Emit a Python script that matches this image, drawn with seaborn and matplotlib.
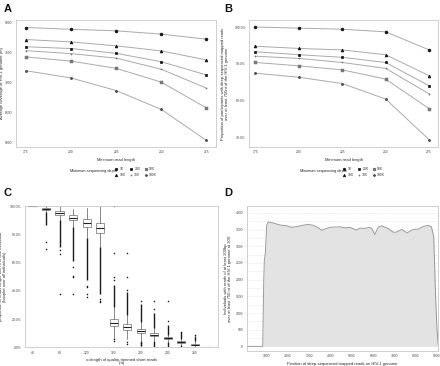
import numpy as np
import pandas as pd
import matplotlib
matplotlib.use("Agg")
import matplotlib.pyplot as plt
from matplotlib.lines import Line2D
from matplotlib.ticker import FuncFormatter
import seaborn as sns

# Panels A and B: coverage vs minimum read length
read_length = [175, 200, 225, 250, 275]
depths = ["1X", "10X", "20X", "30X", "50X", "100X"]
coverage_nt = {
    "1X": [7910, 7880, 7855, 7800, 7715],
    "10X": [7710, 7670, 7605, 7520, 7370],
    "20X": [7590, 7560, 7480, 7340, 7120],
    "30X": [7525, 7475, 7400, 7215, 6900],
    "50X": [7420, 7350, 7230, 7000, 6570],
    "100X": [7190, 7070, 6860, 6545, 6030],
}
prop_participants = {
    "1X": [100.0, 99.7, 99.4, 98.7, 93.8],
    "10X": [94.8, 94.2, 93.8, 92.5, 86.8],
    "20X": [93.3, 92.5, 91.8, 90.4, 84.1],
    "30X": [92.1, 91.5, 90.4, 88.8, 81.9],
    "50X": [90.4, 89.5, 88.4, 85.9, 77.9],
    "100X": [87.5, 86.4, 84.7, 80.5, 69.5],
}
depth_markers = {"1X": "o", "10X": "^", "20X": "s", "30X": "+",
                 "50X": r"$\boxtimes$", "100X": (6, 2, 0)}
depth_colors = {"1X": "#111111", "10X": "#111111", "20X": "#111111",
                "30X": "#777777", "50X": "#777777", "100X": "#555555"}

# Panel C: box statistics (percent) per read length threshold
box_pos = [40, 60, 80, 100, 120, 140, 160, 180, 200, 220, 240, 260, 280, 300]
box_med = [100, 98.3, 95.3, 92.0, 88.2, 84.8, 17.3, 14.3, 11.4, 8.9, 6.5, 3.8, 1.9, 0]
box_q1 = [100, 97.7, 94.0, 90.3, 85.5, 81.3, 14.8, 12.2, 9.8, 7.8, 5.9, 3.2, 1.4, 0]
box_q3 = [100, 98.9, 96.4, 93.5, 90.8, 88.3, 20.2, 16.6, 13.1, 10.1, 7.1, 4.4, 2.5, 0]
box_wlo = [100, 95.9, 90.4, 85.5, 77.5, 70.8, 6.7, 5.6, 4.8, 4.3, 4.1, 1.4, 0, 0]
box_whi = [100, 100, 100, 98.3, 98.7, 99.9, 28.3, 23.2, 18.0, 13.6, 8.9, 6.2, 4.2, 0]
dense_lo = [None, 86.5, 71, 61.5, 48, 38, 28.3, 23.2, 18.0, 13.6, 8.9, 6.2, 4.2, None]
dense_hi = [None, 95.9, 90.4, 85.5, 77.5, 70.8, 44, 39, 31, 24, 15.5, 10.7, 8.3, None]
dense_lo2 = [None, None, None, None, None, None, None, None, 1.0, 0, 0, 0, 0, None]
dense_hi2 = [None, None, None, None, None, None, None, None, 4.8, 4.3, 4.1, 1.4, 0.3, None]
sparse_fliers = [[], [74.6, 69.6], [69, 66, 38], [57, 50.5, 49.8, 38],
                 [43.8, 43, 38, 36], [34.4, 33, 32], [100, 66.8, 50, 47.5, 6, 4.7],
                 [66.8, 50, 40.3, 3.5, 2], [33, 3, 1.5], [33, 27], [33, 19],
                 [11], [8.5], []]

# Panel D: number of individuals along the genome
genome_pos = [60, 812, 860, 888, 935, 1000, 1075, 1150, 1310, 1620, 1940, 2170,
              2400, 2720, 2950, 3190, 3420, 3580, 3810, 3969, 4120, 4438, 4670,
              4907, 5221, 5380, 5610, 5770, 5923, 6079, 6240, 6393, 6703, 6940,
              7097, 7332, 7597, 7878, 8110, 8340, 8580, 8736, 8846, 8940, 9000, 9050]
n_individuals = [0, 0, 1975, 2580, 2780, 3637, 3737, 3717, 3700, 3640, 3615, 3570,
                 3590, 3635, 3655, 3630, 3555, 3485, 3535, 3568, 3575, 3586, 3555,
                 3568, 3486, 3545, 3537, 3565, 3547, 3356, 3580, 3616, 3537, 3425,
                 3425, 3507, 3405, 3507, 3515, 3590, 3628, 3586, 3284, 1370, 500, 60]

sns.set_theme(style="white")
plt.rcParams['font.family'] = ['Liberation Sans', 'DejaVu Sans']

W, H = 440, 366
fig = plt.figure(figsize=(W / 100, H / 100), dpi=100)


def px_axes(l, t, r, b):
    return fig.add_axes([l / W, 1 - b / H, (r - l) / W, (b - t) / H])


def style_ax(ax):
    for s in ax.spines.values():
        s.set_color("#c8c8c8")
        s.set_linewidth(0.6)
    ax.tick_params(length=1.5, width=0.4, color="#888888", labelsize=2.4,
                   labelcolor="#444444", pad=1)
    ax.grid(False)


def line_panel(ax, values):
    for d in depths:
        sns.lineplot(x=read_length, y=values[d], ax=ax, color="#aaaaaa",
                     linewidth=0.7, marker=depth_markers[d], markersize=2.0,
                     markerfacecolor=depth_colors[d],
                     markeredgecolor=depth_colors[d], markeredgewidth=0.5)
    ax.set_xticks(read_length)
    ax.set_xlabel("Minimum read length", fontsize=3, labelpad=3)
    handles = [Line2D([], [], linestyle="none", marker=depth_markers[d],
                      markersize=1.8, color=depth_colors[d],
                      markeredgewidth=0.5) for d in depths]
    ax.legend(handles, depths, ncol=3, loc="upper left",
              bbox_to_anchor=(0.48, -0.14), frameon=False, fontsize=2.4,
              handlelength=0.8, handletextpad=0.6, columnspacing=1.2,
              labelspacing=0.6)
    ax.text(0.27, -0.19, "Minimum sequencing depth", transform=ax.transAxes,
            fontsize=2.8, ha="left", va="center", color="#222222")
    style_ax(ax)


# A
axA = px_axes(16, 20, 216, 146.7)
line_panel(axA, coverage_nt)
axA.set_xlim(169.5, 280.3)
axA.set_ylim(5925, 8035)
axA.set_yticks([6000, 6500, 7000, 7500, 8000])
axA.set_ylabel("Average coverage of HIV-1 genome (nt)", fontsize=3)
axA.yaxis.set_label_coords(-0.058, 0.5)

# B
axB = px_axes(249.3, 20, 438.3, 146.7)
line_panel(axB, prop_participants)
axB.set_xlim(171.5, 280.3)
axB.set_ylim(67.6, 101.9)
axB.set_yticks([70, 80, 90, 100])
axB.yaxis.set_major_formatter(FuncFormatter(lambda v, p: f"{v:.1f}%"))
axB.set_ylabel("Proportion of participants with deep-sequenced mapped reads\n"
               "over at least 750nt of the HIV-1 genome", fontsize=3,
               linespacing=1.0)
axB.yaxis.set_label_coords(-0.11, 0.5)

# C
axC = px_axes(25, 206.3, 218, 347.3)
stats = []
for i, p in enumerate(box_pos):
    stats.append(dict(med=box_med[i], q1=box_q1[i], q3=box_q3[i],
                      whislo=box_wlo[i], whishi=box_whi[i],
                      fliers=sparse_fliers[i]))
axC.bxp(stats, positions=box_pos, widths=12, patch_artist=True,
        boxprops=dict(facecolor="white", edgecolor="#888888", linewidth=0.6),
        medianprops=dict(color="#222222", linewidth=0.8),
        whiskerprops=dict(color="#555555", linewidth=0.5),
        capprops=dict(linewidth=0),
        flierprops=dict(marker="o", markersize=1.1, markerfacecolor="#111111",
                        markeredgecolor="#111111", markeredgewidth=0),
        manage_ticks=False)
for i, p in enumerate(box_pos):
    if dense_lo[i] is not None:
        axC.vlines(p, dense_lo[i], dense_hi[i], color="#1a1a1a", linewidth=1.0)
    if dense_lo2[i] is not None:
        axC.vlines(p, dense_lo2[i], dense_hi2[i], color="#1a1a1a", linewidth=1.0)
axC.set_xlim(29, 314)
axC.set_ylim(0, 100)
axC.set_xticks([40, 80, 120, 160, 200, 240, 280])
axC.set_yticks([0, 20, 40, 60, 80, 100])
axC.yaxis.set_major_formatter(FuncFormatter(lambda v, p: f"{v:.1f}%"))
axC.set_xlabel("x=length of quality-trimmed short reads\n(nt)", fontsize=3,
               labelpad=2, linespacing=0.9)
axC.set_ylabel("proportion of reads longer than x in one individual\n"
               "(boxplot over all individuals)", fontsize=3, linespacing=1.0)
axC.yaxis.set_label_coords(-0.095, 0.5)
style_ax(axC)

# D
axD = px_axes(246.7, 206.3, 438.3, 350.7)
axD.fill_between(genome_pos, n_individuals, 0, color="#e3e3e3", linewidth=0)
sns.lineplot(x=genome_pos, y=n_individuals, ax=axD, color="#9a9a9a",
             linewidth=0.7)
axD.set_xlim(60, 9060)
axD.set_ylim(-130, 4200)
axD.set_xticks(range(1000, 9001, 1000))
axD.set_yticks(range(0, 4001, 500))
for yv in range(250, 4001, 250):
    axD.axhline(yv, color="#d0d0d0", linewidth=0.4, linestyle=(0, (1, 1.5)),
                zorder=0)
axD.set_xlabel("Position of deep-sequenced mapped reads on HIV-1 genome",
               fontsize=3, labelpad=3)
axD.set_ylabel("Individuals with reads of at least 200bp\n"
               "over at least 750 nt of the HIV-1 genome at 30X",
               fontsize=3, linespacing=1.0)
axD.yaxis.set_label_coords(-0.075, 0.5)
style_ax(axD)

for letter, x, y in [("A", 4, 4), ("B", 224, 4), ("C", 4, 188), ("D", 224, 188)]:
    fig.text(x / W, 1 - y / H, letter, fontsize=8, fontweight="bold",
             ha="left", va="top", color="#111111")

fig.savefig("out.png", dpi=100)
